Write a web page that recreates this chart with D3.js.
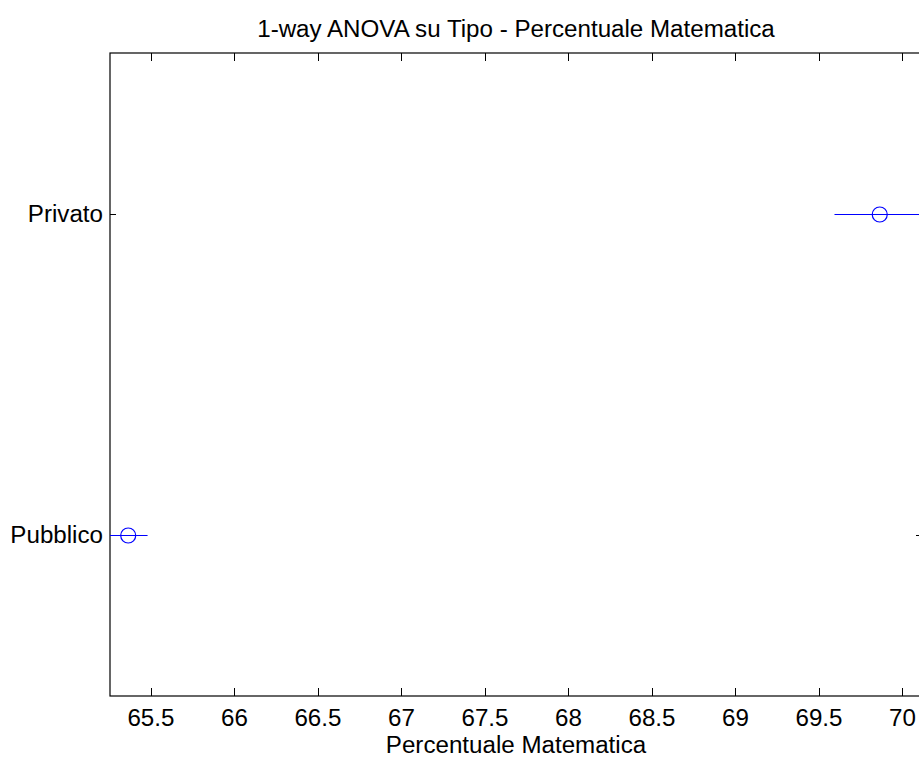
<!DOCTYPE html>
<html>
<head>
<meta charset="utf-8">
<script src="https://cdn.jsdelivr.net/npm/d3@7"></script>
<style>
  html, body { margin: 0; padding: 0; background: #fff; }
  svg { display: block; }
  text { font-family: "Liberation Sans", Arial, Helvetica, sans-serif; fill: #000; }
</style>
</head>
<body>
<svg id="chart" width="919" height="759"></svg>
<script>
// Group means and comparison-interval half-widths (multcompare style)
const groups = ["Privato", "Pubblico"];
const means = [69.864, 65.364];
const halfWidths = [0.271, 0.116];
const xTicks = [65.5, 66, 66.5, 67, 67.5, 68, 68.5, 69, 69.5, 70];
const xDomain = [65.255, 70.117];

const title = "1-way ANOVA su Tipo - Percentuale Matematica";
const xLabel = "Percentuale Matematica";

const box = { left: 110, top: 53, right: 922, bottom: 696 };
const fontSize = 23, stretch = 1.05;

const svg = d3.select("#chart");

const x = d3.scaleLinear().domain(xDomain).range([box.left, box.right]);
const y = d3.scaleLinear().domain([0.5, groups.length + 0.5]).range([box.top, box.bottom]);

const clipId = "plot-clip";
svg.append("defs").append("clipPath").attr("id", clipId)
  .append("rect").attr("x", box.left).attr("y", box.top)
  .attr("width", box.right - box.left).attr("height", box.bottom - box.top);

// slightly widened text helper
function label(g, tx, ty, str, anchor) {
  return g.append("text")
    .attr("transform", `translate(${tx},${ty}) scale(${stretch},1)`)
    .attr("text-anchor", anchor)
    .style("font-size", fontSize + "px")
    .text(str);
}

// axes box
svg.append("rect")
  .attr("x", box.left).attr("y", box.top)
  .attr("width", box.right - box.left).attr("height", box.bottom - box.top)
  .attr("fill", "none").attr("stroke", "#000").attr("stroke-width", 1.2);

// x ticks on bottom and top, y ticks on left and right, all pointing inward
const xt = 8, yt = 6;
const tickG = svg.append("g").attr("stroke", "#000").attr("stroke-width", 1);
xTicks.forEach(v => {
  const px = Math.round(x(v)) + 0.5;
  tickG.append("line").attr("x1", px).attr("x2", px).attr("y1", box.bottom).attr("y2", box.bottom - xt);
  tickG.append("line").attr("x1", px).attr("x2", px).attr("y1", box.top).attr("y2", box.top + xt);
});
groups.forEach((gname, i) => {
  const py = Math.round(y(i + 1)) + 0.5;
  tickG.append("line").attr("x1", box.left).attr("x2", box.left + yt).attr("y1", py).attr("y2", py);
  tickG.append("line").attr("x1", box.right).attr("x2", box.right - yt).attr("y1", py).attr("y2", py);
});

// tick labels
const tl = svg.append("g");
xTicks.forEach(v => label(tl, x(v), box.bottom + 30, d3.format("")(v), "middle"));
groups.forEach((gname, i) => label(tl, box.left - 7, y(i + 1) + 8, gname, "end"));

// interval lines and mean markers
const marks = svg.append("g").attr("clip-path", `url(#${clipId})`);
groups.forEach((gname, i) => {
  const py = Math.round(y(i + 1)) + 0.5;
  marks.append("line")
    .attr("x1", x(means[i] - halfWidths[i])).attr("x2", x(means[i] + halfWidths[i]))
    .attr("y1", py).attr("y2", py)
    .attr("stroke", "#0000ff").attr("stroke-width", 1.2);
  marks.append("circle")
    .attr("cx", x(means[i])).attr("cy", py).attr("r", 7.5)
    .attr("fill", "none").attr("stroke", "#0000ff").attr("stroke-width", 1.2);
});

// title and x label
label(svg, (box.left + box.right) / 2, 37, title, "middle");
label(svg, (box.left + box.right) / 2, 753, xLabel, "middle");
</script>
</body>
</html>
